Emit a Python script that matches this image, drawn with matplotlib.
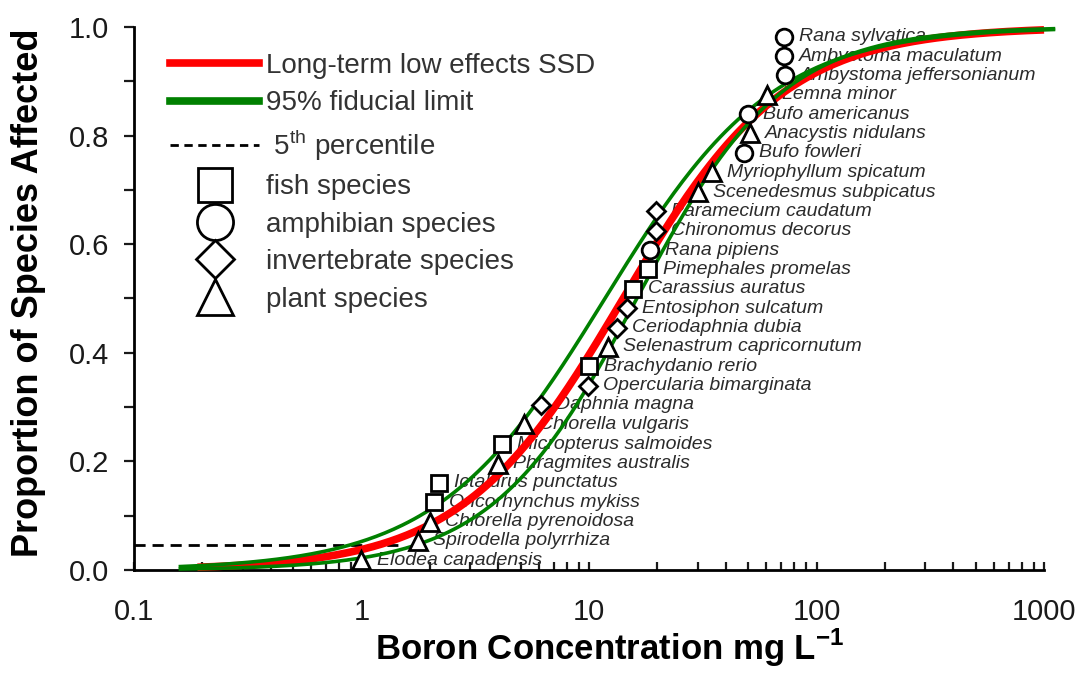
import numpy as np
import matplotlib
matplotlib.use('Agg')
import matplotlib.pyplot as plt
from matplotlib.lines import Line2D

plt.rcParams['font.family'] = ['Liberation Sans', 'DejaVu Sans']
plt.rcParams['mathtext.fontset'] = 'custom'
plt.rcParams['mathtext.rm'] = 'Liberation Sans'
plt.rcParams['mathtext.bf'] = 'Liberation Sans:bold'

# Especies ordenadas por concentración (de menor a mayor)
species = ['Elodea canadensis', 'Spirodella polyrrhiza', 'Chlorella pyrenoidosa',
           'Oncorhynchus mykiss', 'Ictalurus punctatus', 'Phragmites australis',
           'Micropterus salmoides', 'Chlorella vulgaris', 'Daphnia magna',
           'Opercularia bimarginata', 'Brachydanio rerio', 'Selenastrum capricornutum',
           'Ceriodaphnia dubia', 'Entosiphon sulcatum', 'Carassius auratus',
           'Pimephales promelas', 'Rana pipiens', 'Chironomus decorus',
           'Paramecium caudatum', 'Scenedesmus subpicatus', 'Myriophyllum spicatum',
           'Bufo fowleri', 'Anacystis nidulans', 'Bufo americanus', 'Lemna minor',
           'Ambystoma jeffersonianum', 'Ambystoma maculatum', 'Rana sylvatica']
groups = ['plant', 'plant', 'plant', 'fish', 'fish', 'plant', 'fish', 'plant',
          'invertebrate', 'invertebrate', 'fish', 'plant', 'invertebrate',
          'invertebrate', 'fish', 'fish', 'amphibian', 'invertebrate', 'invertebrate',
          'plant', 'plant', 'amphibian', 'plant', 'amphibian', 'plant', 'amphibian',
          'amphibian', 'amphibian']
conc = [1.0, 1.77, 2.0, 2.08, 2.19, 3.98, 4.15, 5.18, 6.15, 9.9, 10.0, 12.1,
        13.3, 14.7, 15.6, 18.2, 18.5, 19.7, 19.7, 30.1, 34.7, 48.0, 51.0, 50.0,
        60.6, 72.6, 72.0, 72.0]
proportion = [0.018, 0.054, 0.089, 0.125, 0.161, 0.196, 0.232, 0.268, 0.304,
              0.339, 0.375, 0.411, 0.446, 0.482, 0.518, 0.554, 0.589, 0.625,
              0.661, 0.696, 0.732, 0.768, 0.804, 0.839, 0.875, 0.911, 0.946, 0.982]

# Parámetros log-logísticos (log10)
ssd_mu, ssd_scale = 1.15, 0.355
upper_mu, upper_scale = 1.07, 0.37
lower_mu, lower_scale = 1.21, 0.32
hc5_conc, hc5_level = 1.5, 0.046

markers = {'fish': 's', 'amphibian': 'o', 'invertebrate': 'D', 'plant': '^'}
msizes = {'fish': 12, 'amphibian': 12, 'invertebrate': 9.5, 'plant': 12.5}


def loglogistic(x, mu, scale):
    return 1.0 / (1.0 + np.exp(-(np.log10(x) - mu) / scale))


fig = plt.figure(figsize=(10.83, 6.73), dpi=100)
ax = fig.add_axes([0.1237, 0.153, 0.8403, 0.807])

# Curvas
x_red = np.logspace(np.log10(0.19), 3, 300)
x_green = np.logspace(np.log10(0.16), np.log10(1100), 300)
ax.plot(x_red, loglogistic(x_red, ssd_mu, ssd_scale), color='#ff0000', lw=5.5,
        zorder=3, clip_on=False, solid_capstyle='butt')
ax.plot(x_green, loglogistic(x_green, upper_mu, upper_scale), color='#008000',
        lw=2.6, zorder=4, clip_on=False)
ax.plot(x_green, loglogistic(x_green, lower_mu, lower_scale), color='#008000',
        lw=2.6, zorder=4, clip_on=False)

# Percentil 5
ax.plot([0.1, hc5_conc], [hc5_level, hc5_level], color='black', lw=2,
        ls=(0, (4, 2.5)), zorder=2)

# Puntos por grupo
for g in ['fish', 'amphibian', 'invertebrate', 'plant']:
    xs = [c for c, gg in zip(conc, groups) if gg == g]
    ys = [p for p, gg in zip(proportion, groups) if gg == g]
    ax.plot(xs, ys, ls='none', marker=markers[g], ms=msizes[g], mfc='white',
            mec='black', mew=2, zorder=5, clip_on=False)

# Etiquetas de especies
for name, c, p in zip(species, conc, proportion):
    ax.annotate(name, (c, p), xytext=(11, 0), textcoords='offset points',
                ha='left', va='center', fontsize=14, style='italic',
                color='#2b2b2b', zorder=2)

ax.set_xscale('log')
ax.set_xlim(0.1, 1000)
ax.set_ylim(0, 1)
ax.set_xticks([0.1, 1, 10, 100, 1000])
ax.set_xticklabels(['0.1', '1', '10', '100', '1000'])
ax.set_yticks([0, 0.2, 0.4, 0.6, 0.8, 1.0])
ax.set_yticklabels(['0.0', '0.2', '0.4', '0.6', '0.8', '1.0'])
ax.set_yticks([0.1, 0.3, 0.5, 0.7, 0.9], minor=True)

for s in ['top', 'right']:
    ax.spines[s].set_visible(False)
for s in ['left', 'bottom']:
    ax.spines[s].set_linewidth(2)

ax.tick_params(axis='x', which='both', direction='in', length=6, width=1.6,
               labelsize=21, pad=20, colors='#1a1a1a')
ax.tick_params(axis='y', which='both', direction='out', length=7, width=1.6,
               labelsize=21, pad=11, colors='#1a1a1a')

ax.set_xlabel(r'Boron Concentration mg L$^{\mathbf{-1}}$', fontsize=25,
              fontweight='bold', va='top')
ax.xaxis.set_label_coords(0.523, -0.105)
ax.set_ylabel('Proportion of Species Affected', fontsize=26, fontweight='bold')
ax.yaxis.set_label_coords(-0.097, 0.51)

# Leyenda
handles = [
    Line2D([], [], color='#ff0000', lw=5.5),
    Line2D([], [], color='#008000', lw=5.5),
    Line2D([], [], color='black', lw=2, ls=(0, (3, 2))),
    Line2D([], [], ls='none', marker='s', ms=25, mfc='white', mec='black', mew=2),
    Line2D([], [], ls='none', marker='o', ms=26, mfc='white', mec='black', mew=2),
    Line2D([], [], ls='none', marker='D', ms=19, mfc='white', mec='black', mew=2),
    Line2D([], [], ls='none', marker='^', ms=26, mfc='white', mec='black', mew=2),
]
labels = ['Long-term low effects SSD', '95% fiducial limit',
          r' 5$^{\mathrm{th}}$ percentile', 'fish species', 'amphibian species',
          'invertebrate species', 'plant species']
leg = ax.legend(handles, labels, loc='upper left', bbox_to_anchor=(0.04, 0.952),
                frameon=False, fontsize=20, handlelength=3.2, handletextpad=0.25,
                labelspacing=0.41, borderpad=0, borderaxespad=0)
for t in leg.get_texts():
    t.set_color('#333333')

plt.savefig('out.png', dpi=100)
